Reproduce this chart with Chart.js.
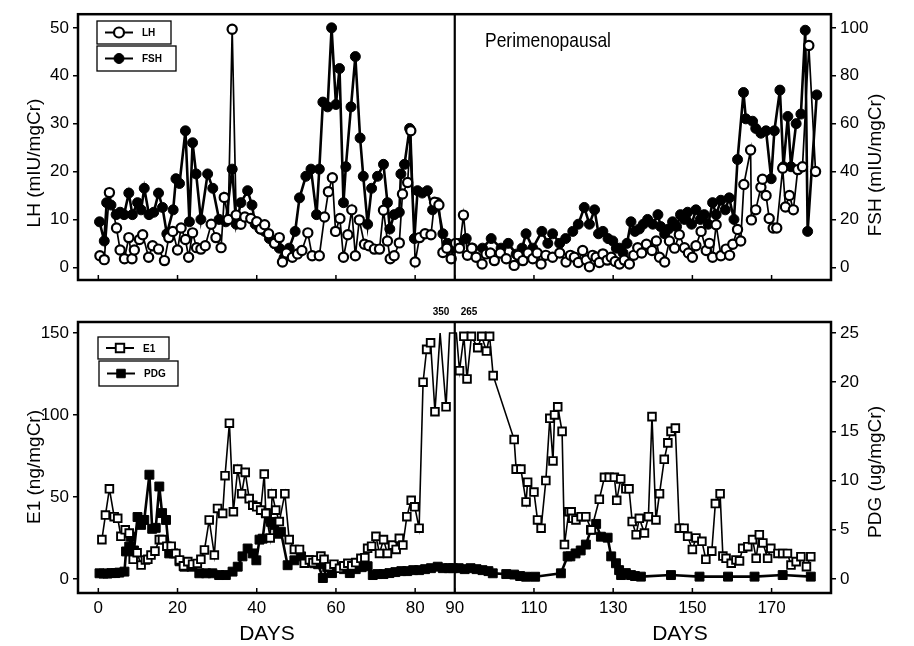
<!DOCTYPE html>
<html>
<head>
<meta charset="utf-8">
<script src="https://cdn.jsdelivr.net/npm/chart.js@4.4.1/dist/chart.umd.min.js"></script>
<style>
  html, body { margin: 0; padding: 0; background: #fff; }
  #wrap { position: relative; width: 914px; height: 646px; }
  canvas { position: absolute; left: 0; }
  #top { top: 0; }
  #bottom { top: 300px; }
</style>
</head>
<body>
<div id="wrap">
  <canvas id="top" width="914" height="300"></canvas>
  <canvas id="bottom" width="914" height="346"></canvas>
</div>
<script>
// ---- data ----
const xTicks = [0, 20, 40, 60, 80, 90, 110, 130, 150, 170];
const lhTicks = [0, 10, 20, 30, 40, 50];
const fshTicks = [0, 20, 40, 60, 80, 100];
const e1Ticks = [0, 50, 100, 150];
const pdgTicks = [0, 5, 10, 15, 20, 25];
const dividerDay = 90;

const lhDays = [0.4,1.5,2.8,4.6,5.5,6.6,7.7,8.5,9.1,10.4,11.2,12.7,13.7,15.2,16.7,17.8,18.8,20,20.9,22,22.8,23.8,24.8,25.9,27,28.5,29.7,31,31.8,32.8,33.8,34.8,36,37,38.5,40,41,42,43,44.5,45.7,46.5,47.5,49,50.3,51.4,52.9,54,55.8,57.1,58.1,59.1,59.9,61,61.9,63,64,64.9,65.9,67.2,68.3,69.7,71,72,73,73.7,74.7,76,76.8,78.1,78.9,80,81.1,82.5,84,84.9,86,87,88,89.1,90.2,91.2,92.2,93.2,94.3,95.4,96.9,97.9,99,100,101.5,103,105,106,107.2,108.5,109.7,110.8,111.8,113,114.7,116.5,118.1,119.2,120.2,121.2,122.3,123.2,124,124.8,125.7,126.5,127.4,128.5,129.5,130.5,131.6,132.8,134.1,135.2,136.2,137.2,138.4,139.8,140.9,141.7,143,144.2,145.5,146.7,148,149,150,150.9,152.2,153.5,154.3,155.1,156,157.2,158.5,159.4,160.2,161.4,162.2,163,164.7,164.9,166,167.3,167.7,168.6,169.4,170.4,171.3,172.8,173.5,174.5,175.5,176.6,177.8,179.4,181.1];
const lhVals = [2.4,1.6,15.6,8.2,3.6,1.8,6.2,1.8,3.6,5.8,6.8,2.1,4.5,3.8,1.4,6.2,7.5,3.6,8.2,5.8,2.1,7.2,4.1,3.8,4.5,9,6.2,4.1,14.6,10,49.7,10.9,9,10.5,10.2,9.5,8,8.9,7,5,6.2,1.1,3,2.1,2.8,3.5,7.2,2.4,2.4,10.5,15.8,18.7,7.5,10.2,2.1,6.8,12,2.4,9.9,4.8,4.5,3.8,3.8,11.9,5.5,1.8,2.4,5.1,15.3,17.7,28.5,1.1,6.2,7,6.8,13.6,13,3.1,4,1.8,5,4,10.9,2.5,4,2.1,0.7,2.8,3,1.4,3,1.8,0.4,2.5,1.4,3,1.8,3,0.7,2.5,2.1,3,1.1,2.5,2.1,1,3.5,1.5,0.1,2.5,2.1,1,2.8,1.5,2.1,1.2,0.7,1.5,0.7,2.5,4.1,3,4.8,3.5,5.5,2.1,1.1,5.5,4,6.8,4.1,3,2.1,4.5,7.5,3.5,5,2.1,8.9,2.4,3.8,2.5,4.8,7.9,5.5,17.3,24.5,9.9,12,16.7,18.4,15,10.2,8.2,8.2,20.7,12.6,15,12,20.4,21,46.3,20];

const fshDays = [0.3,1.5,2.1,3.2,4.5,5.5,6.5,7.7,8.6,9.9,10.8,11.6,12.8,14,15.2,16.2,17.3,18.9,19.6,20.5,22,23,23.8,24.7,25.9,27.6,28.9,30.5,32.2,33.8,34.8,36,37.7,38.8,39.6,40.8,42,43.2,44.4,45.7,46.9,48.2,49.7,50.8,52.4,53.7,55.1,55.8,56.7,57.9,58.9,60,60.9,61.9,62.5,63.8,64.9,66.1,66.9,68,69,70.5,72,73,73.6,74.7,76,76.4,77.3,78.6,79.8,80.6,81.8,83.1,84.4,85.6,87,88.2,89.5,91.2,92.9,94.5,97,99.2,101.7,103.5,105.5,107,108,109.7,112,113.5,114.7,116.5,118,119.8,121.2,122.7,124,125.3,126.3,127.4,128.7,129.9,130.8,131.6,132.5,133.5,134.5,135.5,136.6,137.6,138.7,140,141.3,142,143,144,145,146,147,148,148.8,149.8,150.9,152,153,154,155.1,156,157.2,158.3,159.3,160.5,161.4,162.9,163.5,165.2,166,167.3,168.6,169.9,170.7,172.1,173,174.1,174.9,176.2,177.4,178.5,179.1,181.4];
const fshVals = [19,11,27,26,22,23,22,31,22,27,24,33,22,23,31,25,14,24,37,35,57,19,52,39,20,39,33,20,19,41,18,27,32,26,18,16,15,12,10,8,4,8,15,29,38,41,22,41,69,67,100,68,83,27,42,67,88,54,38,18,33,38,43,27,16,22,23,39,43,58,12,32,31,32,24,27,14,10,8,10,12,8,8,12,8,10,5.5,8,14,8,15,10,14,10,12,15,18,25,18,24,14,15,12,11,8,8,6,10,19,15,16,18,20,18,22,17,14,16,19,17,22,20,23,18,24,20,22,18,27,22,28,24,29,20,45,73,62,61,58,56,57,37,57,74,42,63,42,60,64,99,15,72];

// E1 values at the top of the axis (150) are off-scale readings (350 and 265 are printed above)
const e1Days = [0.9,1.8,2.8,4,4.9,5.7,6.8,7.8,8.8,9.8,10.8,11.9,12.5,13.3,14.3,15.4,16.2,17.3,18.4,19.6,20.5,21.5,22.6,23.8,25,25.9,26.8,28,29.3,30.1,31.4,32,33.1,34.1,35.2,36.2,37.1,38.1,39,40,41,41.9,42.3,43.4,43.9,44.8,45.7,47.1,48.2,49.5,50.8,52,53.3,54.2,55,56.2,57,58.3,59.5,60.9,62,63,64,65,66.3,67.3,68,69,70.1,71,72,73,74.3,75.2,76,76.9,77.9,79,79.9,81,82,82.9,83.9,85,86.3,87.8,88.7,90.4,91.2,92.3,93.1,94.2,95.8,96.8,98,98.8,99.7,105,105.5,106.7,108,108.4,110,110.9,111.8,113,114,114.8,115.2,116,117.1,117.7,118.8,119.4,119.8,120.6,121.9,123.1,124.5,126.5,127.8,129,130.3,130.9,131.9,133.2,134,134.8,135.8,136.6,137.9,138.9,139.8,140.8,141.7,142.9,143.8,144.6,145.7,146.7,147.9,148.8,150,150.9,152.4,153.4,154.9,155.8,157,157.7,158.5,159.8,161,161.9,162.7,164,165.2,166.1,166.9,167.8,169,169.8,171.6,172.8,174,174.9,176.2,177.4,178.8,179.9];
const e1Vals = [24,39,55,38,37,26,30,28,12,16,8.5,11.6,12,14.6,17,24,24,20,20,15.6,11.6,8,10.6,9,9.5,12,17.7,36,14.6,43,40,63,95,41,67,52,65,49,45,44,42,64,40,25,52,42,35,52,24,18,18,9.6,11.6,10,11.6,14,12,7.5,9,6.5,8,9.6,8,10,12.6,13,18.7,20,26,15.6,24,15.6,20.7,18,24.8,20.7,38,48,44,31,120,140,144,102,150,105,150,150,127,148,122,148,141,148,139,148,124,85,67,67,47,59,53,36,31,60,98,72,100,105,90,21,41,41,37,36,38,38,30,48.6,62,62,62,48,61,55,55,35,27,37,28,38,99,36,52,73,83,90,92,31,31,26,18,25,23,12,17,46,52,14,12.6,9.6,11.6,11,18.7,19.7,24,12.6,27,22,12.6,18.7,15.6,15.6,15.6,8.5,10.6,13.6,7.5,13.6];

const pdgDays = [0.3,1.3,2.3,3.3,4.3,5.3,6.6,7,7.8,8.2,9,9.9,10.8,11.6,12.9,13.6,14.5,15.4,16.1,17.1,17.9,19,20.5,21.7,23.5,25.5,27.2,28.8,30.5,32.2,33.9,35.2,36.4,37.7,39,39.9,40.7,41.5,42.3,43.6,44.4,45.3,46.1,47.8,49.5,51.2,53,54.5,55.5,56.7,57.8,59,60.5,62,63.5,65,66.5,68,69.3,70.5,72,73.5,75,76.5,78,79.5,81,82.5,84,85.7,87,88.5,89.5,91,92.5,94,95.5,97,98.5,99.6,103,105,106.5,108,110.3,116.8,118.5,119.2,120.5,121.8,123.1,124.4,125.7,126.9,128.6,129.5,130.7,131.5,132,133.2,134.5,135.5,137,144.6,151.8,159,165.7,172.8,179.9];
const pdgVals = [0.58,0.55,0.55,0.6,0.6,0.65,0.75,2.8,3.3,4.3,2.9,6.3,5.5,6,10.6,5.1,5.2,9.4,6.7,6,2.6,2.6,1.8,1.25,1.25,0.58,0.58,0.58,0.4,0.4,0.75,1.25,2.3,3.1,2.6,1.9,4,4.1,6.7,5.8,5.5,4.6,4.8,1.4,1.9,2.3,1.9,1.6,1.5,0.1,1.2,0.6,1.2,1,0.6,1,1.2,1.3,0.4,0.5,0.5,0.6,0.7,0.8,0.8,0.9,0.9,1,1.1,1.25,1.1,1.1,1.1,1.1,1,1.1,1,0.9,0.8,0.58,0.5,0.45,0.3,0.23,0.23,0.58,2.3,2.3,2.6,2.9,3.5,5,5.6,4.3,4.2,2.3,1.6,0.9,0.4,0.6,0.4,0.3,0.24,0.4,0.24,0.24,0.24,0.4,0.24];

// ---- chart setup ----
const FONT = "'Liberation Sans', Arial, Helvetica, sans-serif";
Chart.defaults.font.family = FONT;
Chart.defaults.color = "#000";

const X_MIN = -5.13, X_MAX = 185.0;
const E1_CLIP = 150;

const toXY = (days, vals) => days.map((d, i) => ({x: d, y: vals[i]}));

function xAxis(height, showLabels) {
  return {
    type: "linear", min: X_MIN, max: X_MAX,
    afterBuildTicks: s => { s.ticks = xTicks.map(v => ({value: v})); },
    afterFit: s => { s.height = height; },
    grid: {display: false, drawTicks: false},
    border: {display: false},
    ticks: {display: showLabels, autoSkip: false, maxRotation: 0, padding: 5, font: {size: 17}}
  };
}

function yAxis(position, min, max, tickList, width) {
  return {
    type: "linear", position, min, max,
    afterBuildTicks: s => { s.ticks = tickList.map(v => ({value: v})); },
    afterFit: s => { s.width = width; },
    grid: {display: true, drawOnChartArea: false, drawTicks: true, tickLength: 5, color: "#000", lineWidth: 1.5},
    border: {display: false},
    ticks: {padding: 4, font: {size: 17}}
  };
}

function marker(ctx, style, filled, x, y, r) {
  ctx.beginPath();
  if (style === "rect") {
    const s = Math.SQRT1_2 * r;
    ctx.rect(x - s, y - s, 2 * s, 2 * s);
  } else {
    ctx.arc(x, y, r, 0, Math.PI * 2);
  }
  ctx.fillStyle = filled ? "#000" : "#fff";
  ctx.fill();
  ctx.stroke();
}

// frame, inward x ticks, divider, legend boxes and free text
const decor = {
  id: "decor",
  afterDraw(chart, args, opts) {
    const {ctx, chartArea: a, scales} = chart;
    ctx.save();
    ctx.strokeStyle = "#000";
    ctx.lineWidth = 1.5;
    xTicks.forEach(v => {
      const px = scales.x.getPixelForValue(v);
      ctx.beginPath(); ctx.moveTo(px, a.bottom); ctx.lineTo(px, a.bottom - 5); ctx.stroke();
    });
    const dx = scales.x.getPixelForValue(dividerDay);
    ctx.lineWidth = 2.2;
    ctx.beginPath(); ctx.moveTo(dx, a.top); ctx.lineTo(dx, a.bottom); ctx.stroke();
    ctx.lineWidth = 2.5;
    ctx.strokeRect(a.left, a.top, a.width, a.height);

    (opts.legend || []).forEach(it => {
      const ds = chart.data.datasets[it.ds];
      const [bx, by, bw, bh] = it.box;
      const cy = by + bh / 2;
      ctx.lineWidth = 1.3;
      ctx.strokeRect(bx, by, bw, bh);
      ctx.lineWidth = 2;
      ctx.beginPath(); ctx.moveTo(bx + 8, cy); ctx.lineTo(bx + 36, cy); ctx.stroke();
      ctx.lineWidth = ds.pointBorderWidth;
      marker(ctx, ds.pointStyle, ds.pointBackgroundColor === "#000", bx + 22, cy, ds.pointStyle === "rect" ? 6 : 5);
      ctx.fillStyle = "#000";
      ctx.font = "bold 10px " + FONT;
      ctx.textAlign = "left"; ctx.textBaseline = "middle";
      ctx.fillText(it.label, bx + 45, cy + 1);
    });

    (opts.texts || []).forEach(t => {
      ctx.save();
      ctx.translate(t.x, t.y);
      if (t.rotate) ctx.rotate(-Math.PI / 2);
      if (t.sx) ctx.scale(t.sx, 1);
      ctx.fillStyle = "#000";
      ctx.font = t.font;
      ctx.textAlign = t.align || "center";
      ctx.textBaseline = "middle";
      ctx.fillText(t.text, 0, 0);
      ctx.restore();
    });
    ctx.restore();
  }
};

const common = {
  responsive: false,
  animation: false,
  devicePixelRatio: 1,
  events: []
};

new Chart(document.getElementById("top"), {
  type: "line",
  data: {
    datasets: [
      {label: "LH", data: toXY(lhDays, lhVals), yAxisID: "y",
       borderColor: "#000", borderWidth: 1.7, tension: 0,
       pointStyle: "circle", pointRadius: 4.6, pointBorderWidth: 2.2,
       pointBackgroundColor: "#fff", pointBorderColor: "#000"},
      {label: "FSH", data: toXY(fshDays, fshVals), yAxisID: "y2",
       borderColor: "#000", borderWidth: 2.6, tension: 0,
       pointStyle: "circle", pointRadius: 5, pointBorderWidth: 1,
       pointBackgroundColor: "#000", pointBorderColor: "#000"}
    ]
  },
  options: {
    ...common,
    layout: {padding: {top: 7, left: 0, right: 0, bottom: 0}},
    scales: {
      x: xAxis(20, false),
      y: yAxis("left", -2.65, 52.85, lhTicks, 78),
      y2: yAxis("right", -5.3, 105.7, fshTicks, 83)
    },
    plugins: {
      legend: {display: false},
      tooltip: {enabled: false},
      decor: {
        legend: [
          {ds: 0, label: "LH", box: [97, 21, 74, 23]},
          {ds: 1, label: "FSH", box: [97, 46, 79, 25]}
        ],
        texts: [
          {text: "LH (mIU/mgCr)", x: 35, y: 163, rotate: true, font: "19px " + FONT},
          {text: "FSH (mIU/mgCr)", x: 876, y: 165, rotate: true, font: "19px " + FONT},
          {text: "Perimenopausal", x: 548, y: 41, sx: 0.83, font: "21px " + FONT}
        ]
      }
    }
  },
  plugins: [decor]
});

new Chart(document.getElementById("bottom"), {
  type: "line",
  data: {
    datasets: [
      {label: "E1", data: toXY(e1Days, e1Vals), yAxisID: "y",
       borderColor: "#000", borderWidth: 1.6, tension: 0,
       pointStyle: "rect", pointBorderWidth: 1.9,
       pointRadius: c => (c.raw && c.raw.y >= E1_CLIP ? 0 : 5.4),
       pointBackgroundColor: "#fff", pointBorderColor: "#000"},
      {label: "PDG", data: toXY(pdgDays, pdgVals), yAxisID: "y2",
       borderColor: "#000", borderWidth: 2.6, tension: 0,
       pointStyle: "rect", pointRadius: 6.3, pointBorderWidth: 1,
       pointBackgroundColor: "#000", pointBorderColor: "#000"}
    ]
  },
  options: {
    ...common,
    layout: {padding: {top: 22, left: 0, right: 0, bottom: 0}},
    scales: {
      x: xAxis(53, true),
      y: yAxis("left", -8.54, 156.7, e1Ticks, 78),
      y2: yAxis("right", -1.423, 26.12, pdgTicks, 83)
    },
    plugins: {
      legend: {display: false},
      tooltip: {enabled: false},
      decor: {
        legend: [
          {ds: 0, label: "E1", box: [98, 37, 71, 22]},
          {ds: 1, label: "PDG", box: [99, 61, 79, 25]}
        ],
        texts: [
          {text: "E1 (ng/mgCr)", x: 35, y: 167, rotate: true, font: "19px " + FONT},
          {text: "PDG (ug/mgCr)", x: 876, y: 172, rotate: true, font: "19px " + FONT},
          {text: "350", x: 441, y: 12, font: "bold 10px " + FONT},
          {text: "265", x: 469, y: 12, font: "bold 10px " + FONT},
          {text: "DAYS", x: 267, y: 334, font: "21px " + FONT},
          {text: "DAYS", x: 680, y: 334, font: "21px " + FONT}
        ]
      }
    }
  },
  plugins: [decor]
});
</script>
</body>
</html>
